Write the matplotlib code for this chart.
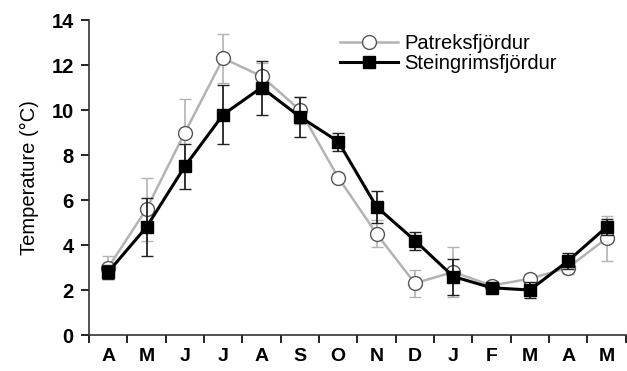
import numpy as np
import matplotlib
matplotlib.use("Agg")
import matplotlib.pyplot as plt
from matplotlib.lines import Line2D

plt.rcParams['font.family'] = ['Liberation Sans', 'DejaVu Sans']

# months from April to May of the next year
months = ['A', 'M', 'J', 'J', 'A', 'S', 'O', 'N', 'D', 'J', 'F', 'M', 'A', 'M']

patreks = [3.0, 5.6, 9.0, 12.3, 11.5, 10.0, 7.0, 4.5, 2.3, 2.8, 2.2, 2.5, 3.0, 4.3]
patreks_err = [0.5, 1.4, 1.5, 1.1, 0.6, 0.6, 0.2, 0.6, 0.6, 1.1, 0.2, 0.2, 0.3, 1.0]

steing = [2.8, 4.8, 7.5, 9.8, 11.0, 9.7, 8.6, 5.7, 4.2, 2.6, 2.1, 2.0, 3.3, 4.8]
steing_err = [0.3, 1.3, 1.0, 1.3, 1.2, 0.9, 0.4, 0.7, 0.4, 0.8, 0.15, 0.35, 0.35, 0.35]

x = np.arange(len(months))

fig = plt.figure(figsize=(6.27, 3.71), dpi=100)
ax = fig.add_axes([0.142, 0.097, 0.856, 0.849])

gray = '#b3b3b3'
ax.errorbar(x, patreks, yerr=patreks_err, color=gray, lw=1.8, marker='o',
            markersize=10, markerfacecolor='white', markeredgecolor='#555555',
            markeredgewidth=1.0, ecolor=gray, elinewidth=1.2, capsize=4,
            zorder=2)
ax.errorbar(x, steing, yerr=steing_err, color='black', lw=2.2, marker='s',
            markersize=8, markerfacecolor='black', markeredgecolor='black',
            ecolor='#222222', elinewidth=1.3, capsize=4, zorder=3)

ax.set_xlim(-0.5, 13.5)
ax.set_ylim(0, 14)
ax.set_yticks(range(0, 15, 2))
ax.set_yticklabels([str(v) for v in range(0, 15, 2)], fontweight='bold', fontsize=14.5)
ax.set_xticks(x)
ax.set_xticklabels(months, fontweight='bold', fontsize=14)
ax.set_xticks(np.arange(-0.5, 14, 1), minor=True)
ax.tick_params(axis='x', which='major', length=0, pad=9)
ax.tick_params(axis='x', which='minor', length=6, width=1.2, direction='out')
ax.tick_params(axis='y', length=6, width=1.2, direction='out', pad=5)

for s in ['top', 'right']:
    ax.spines[s].set_visible(False)
for s in ['left', 'bottom']:
    ax.spines[s].set_linewidth(1.2)
    ax.spines[s].set_color('#333333')

ax.set_ylabel('Temperature (°C)', fontsize=14.5, labelpad=9)

handles = [
    Line2D([], [], color=gray, lw=1.8, marker='o', markersize=10,
           markerfacecolor='white', markeredgecolor='#555555', markeredgewidth=1.0),
    Line2D([], [], color='black', lw=2.2, marker='s', markersize=8),
]
ax.legend(handles, ['Patreksfjördur', 'Steingrimsfjördur'],
          loc='upper left', bbox_to_anchor=(0.46, 0.967), frameon=False,
          fontsize=14.5, handlelength=2.9, labelspacing=0.05,
          handletextpad=0.3, borderaxespad=0.0, borderpad=0.2)

fig.savefig('out.png', dpi=100)
